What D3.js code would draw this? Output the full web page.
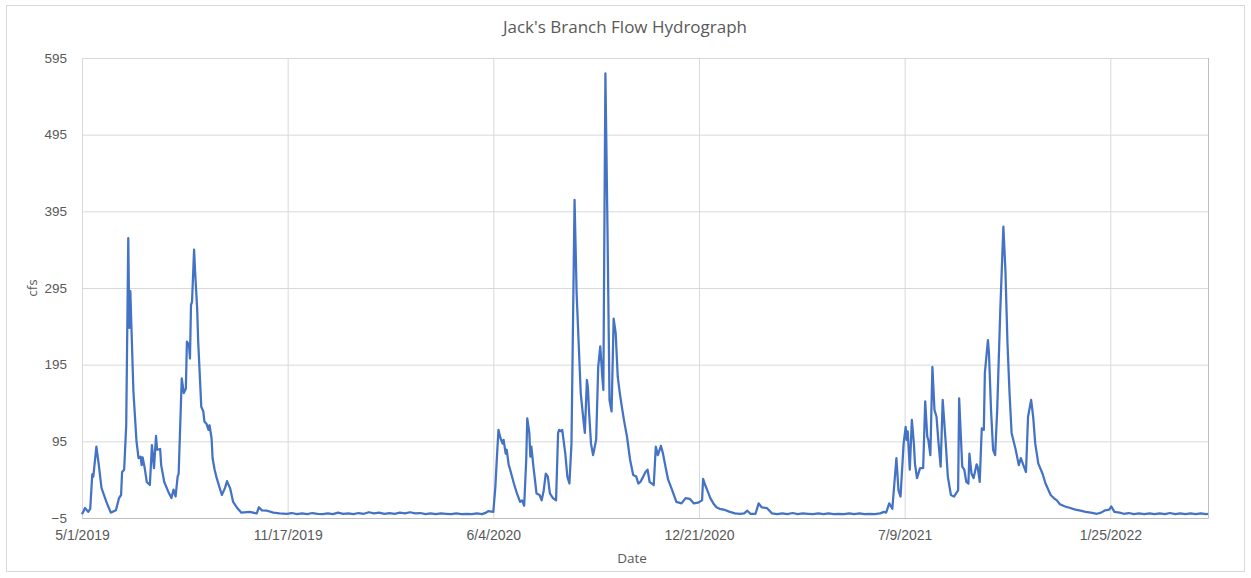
<!DOCTYPE html>
<html>
<head>
<meta charset="utf-8">
<script src="https://cdn.jsdelivr.net/npm/d3@7"></script>
<style>
  html, body { margin: 0; padding: 0; background: #ffffff; }
  svg { display: block; font-family: "Open Sans", "Liberation Sans", sans-serif; }
</style>
</head>
<body>
<svg id="chart" width="1251" height="578"></svg>
<script>
// Daily flow readings (cfs), grouped by calendar year
const dates2019 = [
  "2019-05-01","2019-05-04","2019-05-07","2019-05-09","2019-05-11","2019-05-12","2019-05-15","2019-05-17","2019-05-20","2019-05-25","2019-05-29",
  "2019-06-03","2019-06-06","2019-06-08","2019-06-09","2019-06-11","2019-06-13","2019-06-15","2019-06-16","2019-06-17","2019-06-18","2019-06-20","2019-06-23","2019-06-25","2019-06-27","2019-06-28","2019-06-29",
  "2019-07-01","2019-07-03","2019-07-06","2019-07-08","2019-07-10","2019-07-12","2019-07-13","2019-07-16","2019-07-17","2019-07-20","2019-07-24","2019-07-27","2019-07-29","2019-07-31",
  "2019-08-02","2019-08-03","2019-08-06","2019-08-08","2019-08-10","2019-08-11","2019-08-13","2019-08-14","2019-08-15","2019-08-16","2019-08-18","2019-08-19","2019-08-21","2019-08-22","2019-08-25","2019-08-27","2019-08-28","2019-08-30",
  "2019-09-01","2019-09-02","2019-09-04","2019-09-05","2019-09-07","2019-09-09","2019-09-14","2019-09-17","2019-09-19","2019-09-22","2019-09-25","2019-09-29",
  "2019-10-03","2019-10-11","2019-10-18","2019-10-20","2019-10-23","2019-10-28",
  "2019-11-03","2019-11-09","2019-11-16","2019-11-21","2019-11-26",
  "2019-12-01","2019-12-06","2019-12-11","2019-12-16","2019-12-21","2019-12-26","2019-12-31"
];
const cfs2019 = [
  0, 8, 3, 7, 52, 49, 88, 68, 34, 15, 2,
  5, 21, 25, 55, 58, 116, 360, 243, 291, 247, 160, 95, 73, 75, 64, 74,
  60, 42, 38, 90, 60, 102, 84, 85, 64, 42, 29, 21, 32, 23,
  49, 53, 177, 158, 164, 225, 221, 203, 273, 277, 345, 316, 268, 225, 140, 134, 121, 118,
  110, 116, 99, 73, 58, 47, 25, 34, 43, 34, 16, 8,
  2, 3, 1, 9, 5, 4.5,
  2, 1, 0.5, 1.5, 0,
  1, 0, 1.5, 0.5, 0, 1, 0
];

const dates2020 = [
  "2020-01-05","2020-01-10","2020-01-15","2020-01-20","2020-01-25","2020-01-30",
  "2020-02-04","2020-02-09","2020-02-14","2020-02-19","2020-02-24","2020-02-29",
  "2020-03-05","2020-03-10","2020-03-15","2020-03-20","2020-03-25","2020-03-30",
  "2020-04-04","2020-04-09","2020-04-14","2020-04-19","2020-04-24","2020-04-29",
  "2020-05-04","2020-05-09","2020-05-14","2020-05-19","2020-05-24","2020-05-28","2020-05-30",
  "2020-06-04","2020-06-06","2020-06-07","2020-06-09","2020-06-11","2020-06-13","2020-06-14","2020-06-16","2020-06-17","2020-06-19","2020-06-20","2020-06-24","2020-06-27","2020-06-30",
  "2020-07-02","2020-07-04","2020-07-06","2020-07-07","2020-07-09","2020-07-10","2020-07-11","2020-07-13","2020-07-16","2020-07-19","2020-07-21","2020-07-23","2020-07-25","2020-07-27","2020-07-29",
  "2020-08-01","2020-08-04","2020-08-06","2020-08-07","2020-08-09","2020-08-10","2020-08-13","2020-08-15","2020-08-17","2020-08-19","2020-08-22","2020-08-24","2020-08-26","2020-08-28","2020-08-31",
  "2020-09-01","2020-09-03","2020-09-04","2020-09-05","2020-09-07","2020-09-09","2020-09-12","2020-09-14","2020-09-16","2020-09-18","2020-09-19","2020-09-21","2020-09-23","2020-09-25","2020-09-27","2020-09-29",
  "2020-10-01","2020-10-03","2020-10-05","2020-10-07","2020-10-09","2020-10-12","2020-10-15","2020-10-18","2020-10-21","2020-10-23","2020-10-25","2020-10-27","2020-10-30",
  "2020-11-01","2020-11-03","2020-11-07","2020-11-09","2020-11-11","2020-11-14","2020-11-16","2020-11-19","2020-11-21","2020-11-25","2020-11-29",
  "2020-12-04","2020-12-08","2020-12-12","2020-12-16","2020-12-20","2020-12-24","2020-12-25","2020-12-27","2020-12-30"
];
const cfs2020 = [
  2, 0.5, 1, 0, 1.5, 0.5,
  2.5, 1, 2, 0.5, 1.5, 0.5,
  2, 1, 2.5, 1, 1.5, 0,
  1, 0, 1, 0.5, 0, 1,
  0, 0.5, 0, 1, 0, 2, 4,
  3, 36, 62, 110, 99, 92, 97, 79, 84, 64, 60, 40, 27, 16,
  18, 11, 71, 125, 106, 75, 88, 62, 27, 25, 18, 31, 53, 49, 27,
  21, 18, 106, 110, 108, 110, 79, 49, 40, 92, 410, 288, 223, 158, 118,
  106, 175, 165, 136, 92, 77, 97, 192, 219, 179, 162, 575, 375, 149, 134, 255,
  236, 179, 158, 140, 123, 101, 71, 51, 49, 40, 42, 47, 55,
  58, 42, 38, 88, 77, 89, 79, 58, 45, 31, 16,
  14, 21, 20, 14, 15, 18, 46, 38, 28
];

const dates2021 = [
  "2021-01-01","2021-01-04","2021-01-07","2021-01-10","2021-01-14","2021-01-20","2021-01-25","2021-01-30",
  "2021-02-03","2021-02-06","2021-02-09","2021-02-14","2021-02-17","2021-02-20","2021-02-25",
  "2021-03-02","2021-03-07","2021-03-12","2021-03-17","2021-03-22","2021-03-27",
  "2021-04-01","2021-04-06","2021-04-11","2021-04-16","2021-04-21","2021-04-26",
  "2021-05-01","2021-05-06","2021-05-11","2021-05-16","2021-05-21","2021-05-26","2021-05-31",
  "2021-06-05","2021-06-10","2021-06-15","2021-06-19","2021-06-21","2021-06-24","2021-06-27","2021-06-29",
  "2021-07-01","2021-07-03","2021-07-05","2021-07-08","2021-07-10","2021-07-11","2021-07-12","2021-07-14","2021-07-16","2021-07-18","2021-07-19","2021-07-21","2021-07-24","2021-07-27","2021-07-29","2021-07-31",
  "2021-08-01","2021-08-03","2021-08-05","2021-08-07","2021-08-09","2021-08-11","2021-08-13","2021-08-15","2021-08-18","2021-08-20","2021-08-23","2021-08-26","2021-08-29","2021-08-30","2021-08-31",
  "2021-09-03","2021-09-05","2021-09-07","2021-09-09","2021-09-10","2021-09-12","2021-09-14","2021-09-17","2021-09-18","2021-09-20","2021-09-22","2021-09-24","2021-09-25","2021-09-28","2021-09-29",
  "2021-10-01","2021-10-03","2021-10-05","2021-10-07","2021-10-10","2021-10-13","2021-10-15","2021-10-17","2021-10-19","2021-10-21","2021-10-25","2021-10-28","2021-10-30",
  "2021-11-02","2021-11-04","2021-11-06","2021-11-09","2021-11-11","2021-11-13","2021-11-16","2021-11-20","2021-11-23","2021-11-28",
  "2021-12-01","2021-12-04","2021-12-07","2021-12-12","2021-12-17","2021-12-22","2021-12-27"
];
const cfs2021 = [
  21, 14, 9, 7, 6, 3, 1, 0.5,
  1, 4.5, 0.5, 0.5, 14, 9, 8,
  1, 0, 1, 0, 1.5, 0,
  1, 0.5, 0, 1, 0, 1,
  0, 0.5, 0, 1, 0, 1, 0,
  0.5, 0, 1, 3, 2, 14, 7, 40,
  73, 31, 23, 92, 114, 97, 108, 58, 123, 92, 66, 47, 60, 60, 147, 101,
  97, 77, 192, 136, 127, 92, 62, 149, 92, 49, 25, 23, 29, 31, 151,
  62, 58, 42, 40, 79, 53, 47, 65, 62, 42, 112, 110, 184, 227, 210,
  136, 84, 77, 136, 266, 375, 318, 223, 158, 106, 84, 64, 73,
  62, 55, 127, 149, 127, 92, 66, 53, 40, 25,
  21, 18, 13, 10, 8, 6, 4.5
];

const dates2022 = [
  "2022-01-01","2022-01-06","2022-01-12","2022-01-16","2022-01-20","2022-01-24","2022-01-26","2022-01-29",
  "2022-02-03","2022-02-07","2022-02-12","2022-02-17","2022-02-22","2022-02-27",
  "2022-03-04","2022-03-09","2022-03-14","2022-03-19","2022-03-24","2022-03-29",
  "2022-04-03","2022-04-08","2022-04-13","2022-04-18","2022-04-23","2022-04-28","2022-04-30"
];
const cfs2022 = [
  3, 2, 0.5, 2, 5, 6, 10, 3,
  2, 0.5, 1.5, 0, 1, 0,
  1, 0, 1, 0, 1.5, 0,
  1, 0, 1, 0, 1, 0, 0.5
];

// Axis ticks
const xTickDates = ["2019-05-01", "2019-11-17", "2020-06-04", "2020-12-21", "2021-07-09", "2022-01-25"];
const yTickValues = [-5, 95, 195, 295, 395, 495, 595];
const dateRange = ["2019-05-01", "2022-04-30"];

const config = {
  width: 1251,
  height: 578,
  margin: { top: 58, right: 43, bottom: 60, left: 82 },
  lineColor: "#4472C4",
  gridColor: "#d9d9d9",
  textColor: "#595959"
};

const parseDate = d3.timeParse("%Y-%m-%d");
const formatDate = d => `${d.getMonth() + 1}/${d.getDate()}/${d.getFullYear()}`;

const allDates = [...dates2019, ...dates2020, ...dates2021, ...dates2022];
const allCfs = [...cfs2019, ...cfs2020, ...cfs2021, ...cfs2022];
const data = allDates.map((d, i) => ({ date: parseDate(d), cfs: allCfs[i] }));

const svg = d3.select("#chart");
const innerW = config.width - config.margin.left - config.margin.right;
const innerH = config.height - config.margin.top - config.margin.bottom;

// chart area border
svg.append("rect")
  .attr("x", 6.5).attr("y", 5.5)
  .attr("width", 1238).attr("height", 566)
  .attr("fill", "#fff")
  .attr("stroke", "#d9d9d9");

const g = svg.append("g")
  .attr("transform", `translate(${config.margin.left},${config.margin.top})`);

const x = d3.scaleTime()
  .domain(dateRange.map(parseDate))
  .range([0, innerW]);

const y = d3.scaleLinear()
  .domain([yTickValues[0], yTickValues[yTickValues.length - 1]])
  .range([innerH, 0]);

// horizontal gridlines + y labels
const yAxis = d3.axisLeft(y)
  .tickValues(yTickValues)
  .tickSize(-innerW)
  .tickPadding(15)
  .tickFormat(d3.format("d"));

g.append("g")
  .attr("class", "y-axis")
  .call(yAxis)
  .call(s => s.select(".domain").remove())
  .call(s => s.selectAll("line").attr("stroke", config.gridColor))
  .call(s => s.selectAll("text")
    .attr("fill", config.textColor)
    .style("font-size", "13.5px"));

// vertical gridlines + x labels
const xAxis = d3.axisBottom(x)
  .tickValues(xTickDates.map(parseDate))
  .tickSize(-innerH)
  .tickPadding(12)
  .tickFormat(formatDate);

g.append("g")
  .attr("class", "x-axis")
  .attr("transform", `translate(0,${innerH})`)
  .call(xAxis)
  .call(s => s.select(".domain").attr("stroke", "#bfbfbf"))
  .call(s => s.selectAll("line").attr("stroke", config.gridColor))
  .call(s => s.selectAll("text")
    .attr("fill", config.textColor)
    .style("font-size", "14px"));

// flow line
const line = d3.line()
  .x(d => x(d.date))
  .y(d => y(d.cfs));

g.append("path")
  .datum(data)
  .attr("fill", "none")
  .attr("stroke", config.lineColor)
  .attr("stroke-width", 2.25)
  .attr("stroke-linejoin", "round")
  .attr("d", line);

// title and axis titles
svg.append("text")
  .attr("x", 625).attr("y", 33)
  .attr("text-anchor", "middle")
  .attr("fill", config.textColor)
  .style("font-size", "17px")
  .text("Jack's Branch Flow Hydrograph");

svg.append("text")
  .attr("transform", "translate(37,288) rotate(-90)")
  .attr("text-anchor", "middle")
  .attr("fill", config.textColor)
  .style("font-size", "13.5px")
  .text("cfs");

svg.append("text")
  .attr("x", 632).attr("y", 563)
  .attr("text-anchor", "middle")
  .attr("fill", config.textColor)
  .style("font-size", "13.5px")
  .text("Date");
</script>
</body>
</html>
